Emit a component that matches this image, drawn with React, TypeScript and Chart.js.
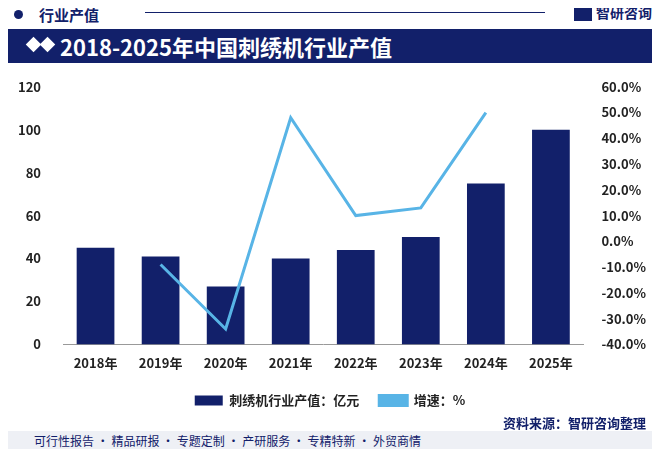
import { useEffect, useRef } from "react"
import { Chart, registerables } from "chart.js"

Chart.register(...registerables)

const years = ["2018年", "2019年", "2020年", "2021年", "2022年", "2023年", "2024年", "2025年"]
const output = [45, 41, 27, 40, 44, 50, 75, 100]
const growth = [null, -9, -34, 48, 10, 13, 50, null]
const FONT = "'Noto Sans CJK SC', 'Noto Sans', sans-serif"

export default function App() {
  const ref = useRef<HTMLCanvasElement>(null)

  useEffect(() => {
    if (!ref.current) return
    const chart = new Chart(ref.current, {
      type: "bar",
      data: {
        labels: years,
        datasets: [
          {
            type: "line",
            label: "增速：%",
            data: growth,
            yAxisID: "y1",
            borderColor: "#58b4e6",
            backgroundColor: "#58b4e6",
            borderWidth: 3,
            pointRadius: 0,
            tension: 0,
            order: 0,
          },
          {
            type: "bar",
            label: "刺绣机行业产值：亿元",
            data: output,
            yAxisID: "y",
            backgroundColor: "#12206a",
            barPercentage: 0.58,
            categoryPercentage: 1,
            order: 1,
          },
        ],
      },
      options: {
        responsive: true,
        maintainAspectRatio: false,
        animation: false,
        layout: { padding: { left: 4, right: 4, top: 4 } },
        plugins: {
          legend: {
            position: "bottom",
            reverse: true,
            labels: {
              font: { family: FONT, size: 13, weight: "bold" },
              color: "#222",
              boxWidth: 28,
              boxHeight: 10,
              padding: 20,
            },
          },
          tooltip: { enabled: false },
        },
        scales: {
          x: {
            grid: { display: false },
            border: { color: "#999" },
            ticks: { font: { family: FONT, size: 13, weight: "bold" }, color: "#222" },
          },
          y: {
            min: 0,
            max: 120,
            ticks: { stepSize: 20, font: { family: FONT, size: 13, weight: "bold" }, color: "#222", padding: 14 },
            grid: { display: false },
            border: { display: false },
          },
          y1: {
            position: "right",
            min: -40,
            max: 60,
            ticks: {
              stepSize: 10,
              font: { family: FONT, size: 13, weight: "bold" },
              color: "#222",
              padding: 10,
              callback: (v) => Number(v).toFixed(1) + "%",
            },
            grid: { display: false },
            border: { display: false },
          },
        },
      },
    })
    return () => chart.destroy()
  }, [])

  return (
    <div style={{ width: 660, height: 457, margin: -8, position: "relative", background: "#fff", fontFamily: FONT, overflow: "hidden" }}>
      <div style={{ position: "absolute", left: 14, top: 4, display: "flex", alignItems: "center" }}>
        <div style={{ width: 9, height: 9, borderRadius: 5, background: "#12206a" }} />
        <span style={{ marginLeft: 16, fontSize: 15, fontWeight: "bold", color: "#12206a" }}>行业产值</span>
      </div>
      <div style={{ position: "absolute", left: 145, right: 115, top: 12, borderTop: "1px solid #12206a" }} />
      <div style={{ position: "absolute", right: 8, top: 2, fontSize: 14, fontWeight: "bold", color: "#12206a" }}>
        <span style={{ display: "inline-block", width: 18, height: 16, background: "#12206a", marginRight: 4, verticalAlign: -3 }} />
        智研咨询
      </div>
      <div style={{ position: "absolute", left: 8, right: 8, top: 29, height: 34, background: "#12206a", color: "#fff", fontSize: 22, fontWeight: "bold", lineHeight: "34px", paddingLeft: 52 }}>
        <span style={{ position: "absolute", left: 20, top: 10, width: 11, height: 11, background: "#fff", transform: "rotate(45deg)" }} />
        <span style={{ position: "absolute", left: 34, top: 10, width: 11, height: 11, background: "#fff", transform: "rotate(45deg)" }} />
        2018-2025年中国刺绣机行业产值
      </div>
      <div style={{ position: "absolute", left: 0, top: 65, width: 660, height: 352 }}>
        <canvas ref={ref} />
      </div>
      <div style={{ position: "absolute", right: 14, top: 413, fontSize: 13, fontWeight: "bold", color: "#12206a" }}>资料来源：智研咨询整理</div>
      <div style={{ position: "absolute", left: 0, right: 0, top: 431, height: 20, background: "#eef0f5", fontSize: 12, color: "#12206a", lineHeight: "20px", paddingLeft: 34, whiteSpace: "nowrap" }}>
        可行性报告 · 精品研报 · 专题定制 · 产研服务 · 专精特新 · 外贸商情
      </div>
    </div>
  )
}
